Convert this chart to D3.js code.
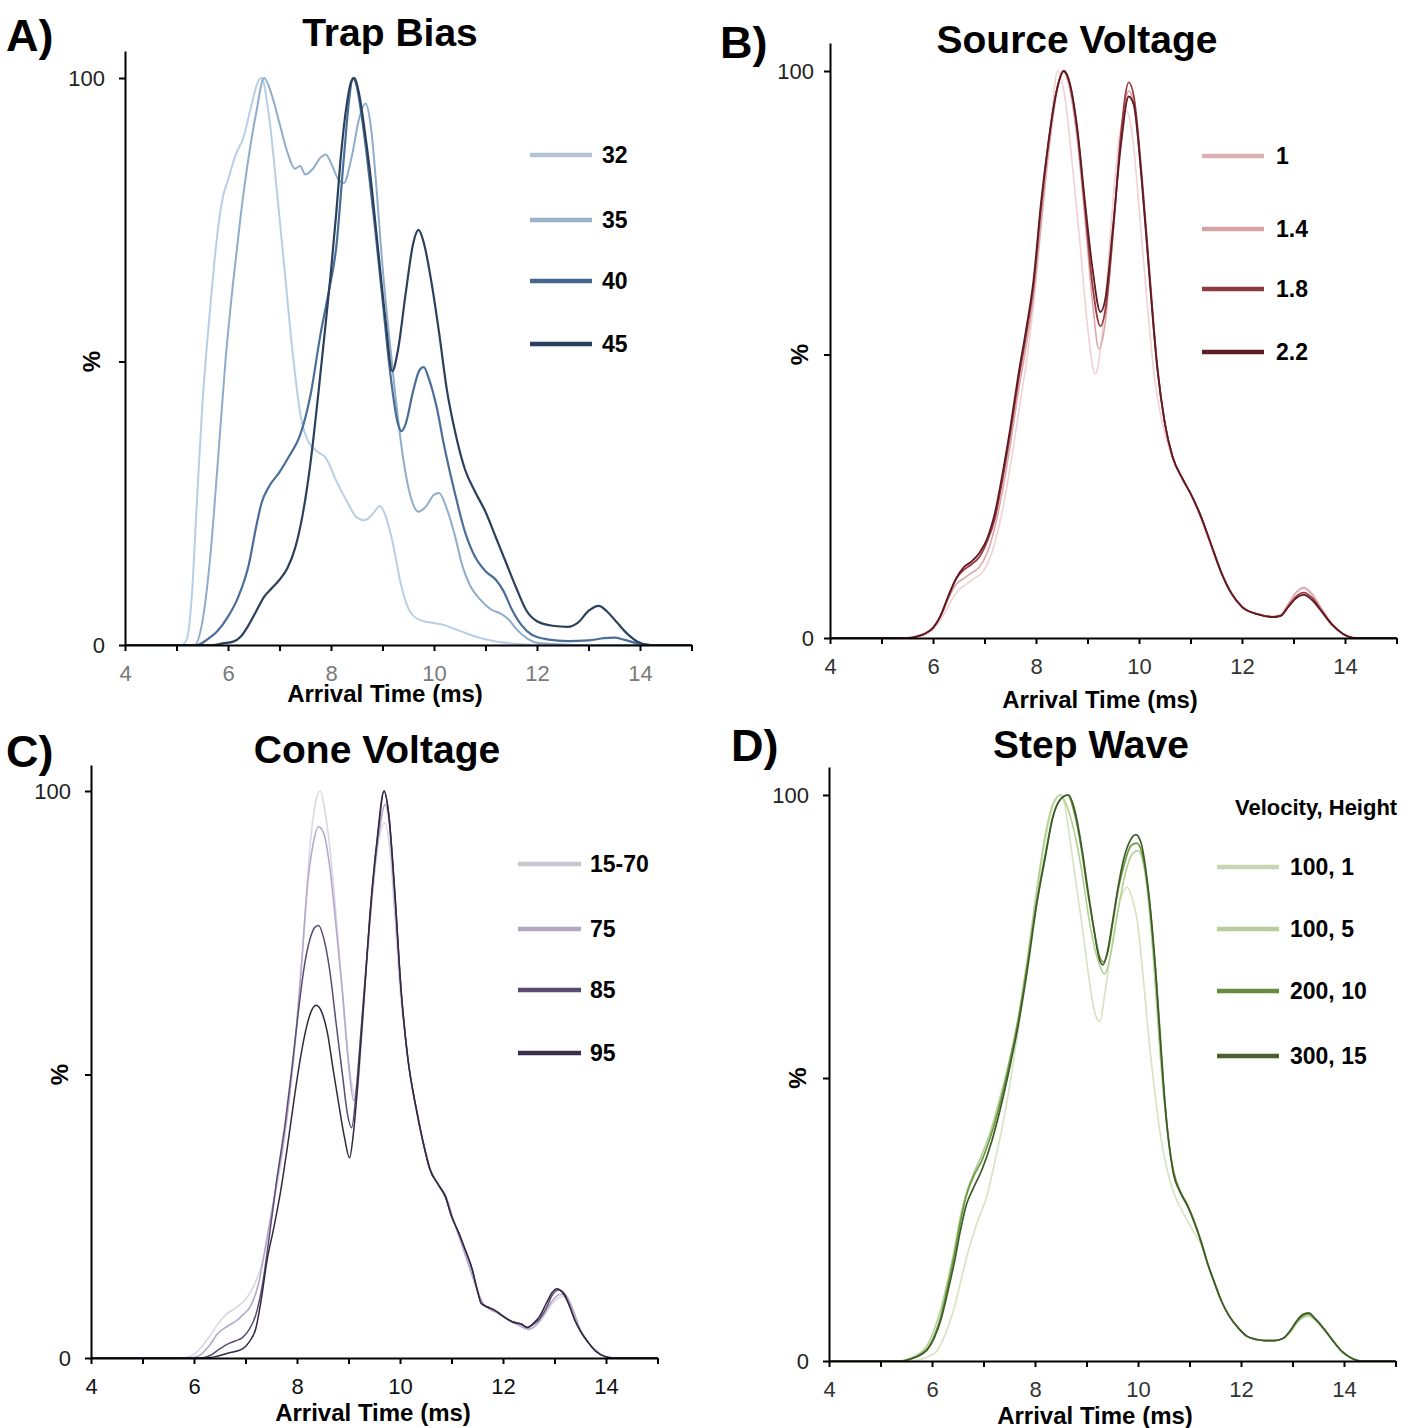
<!DOCTYPE html>
<html>
<head>
<meta charset="utf-8">
<script src="https://cdn.jsdelivr.net/npm/d3@7"></script>
<style>
  body { margin: 0; background: #fff; }
  svg { display: block; font-family: "Liberation Sans", Arial, sans-serif; }
  .axis path, .axis line { stroke: #000; stroke-width: 2; }
  .axis text { font-size: 22px; font-family: "Liberation Sans", Arial, sans-serif; }
  .title { font-size: 39px; font-weight: bold; }
  .letter { font-size: 45px; font-weight: bold; }
  .xlabel { font-size: 24px; font-weight: bold; }
  .ylabel { font-size: 24px; font-weight: bold; }
  .legend-label { font-size: 23px; font-weight: bold; }
</style>
</head>
<body>
<svg></svg>
<script>
var width = 1416,
    height = 1428;

var xTicks = [4, 5, 6, 7, 8, 9, 10, 11, 12, 13, 14, 15];
var yTicks = [0, 50, 100];

// A) Trap Bias
var trapLabels = ["32", "35", "40", "45"];
var trap32 = [[4,0],[5.1,0],[5.2,1],[5.3,9],[5.4,26],[5.5,42],[5.65,59],[5.8,73],[5.9,79],[6.0,82],[6.15,86.5],[6.3,89.5],[6.45,95],[6.58,99.3],[6.65,100],[6.8,93],[6.95,80],[7.1,66],[7.25,52],[7.4,41],[7.55,36],[7.75,34],[7.9,33],[8.1,29],[8.3,25.5],[8.5,22.5],[8.65,22],[8.8,23],[8.95,24.5],[9.05,23],[9.2,18],[9.35,11],[9.5,6.5],[9.7,4.5],[9.9,4],[10.2,3.5],[10.5,2.5],[10.8,1.5],[11.2,0.6],[11.6,0.2],[12,0],[15,0]];
var trap35 = [[4,0],[5.35,0],[5.5,4],[5.65,15],[5.8,32],[5.95,50],[6.1,64],[6.25,76],[6.4,86],[6.55,94],[6.7,100],[6.85,97],[7.0,92],[7.15,87],[7.3,84],[7.4,84.5],[7.5,83],[7.65,84],[7.8,86],[7.9,86.5],[8.0,85],[8.15,82],[8.25,81.5],[8.4,86],[8.55,93],[8.67,95.5],[8.78,91],[8.88,81],[8.98,69],[9.1,57],[9.25,44],[9.4,33],[9.55,26],[9.7,23.5],[9.85,24.5],[10.0,26.5],[10.1,26.8],[10.25,24],[10.4,19.5],[10.55,14],[10.7,10.5],[10.9,8],[11.1,6.3],[11.3,5.5],[11.45,4.5],[11.6,2.8],[11.8,1.2],[12.0,0.4],[12.5,0.1],[13.0,0],[15,0]];
var trap40 = [[4,0],[5.4,0],[5.6,1],[5.8,2.5],[6.0,5],[6.2,8.5],[6.4,14],[6.55,21],[6.65,25],[6.8,28],[7.0,30.5],[7.2,33.5],[7.4,37],[7.6,44],[7.8,55],[7.95,62],[8.1,70],[8.25,86],[8.35,96],[8.42,100],[8.5,98.5],[8.6,93],[8.7,86],[8.85,74],[9.0,61],[9.15,48],[9.3,39],[9.37,37.7],[9.45,39],[9.6,45],[9.72,48.5],[9.8,49],[9.9,47],[10.05,42],[10.2,35],[10.4,27],[10.6,20],[10.8,15.5],[11.0,13],[11.2,11.5],[11.35,9.5],[11.5,6.5],[11.7,3.5],[11.9,1.8],[12.2,1],[12.6,0.7],[13.0,0.8],[13.3,1.2],[13.5,1.3],[13.7,0.9],[13.95,0.3],[14.2,0],[15,0]];
var trap45 = [[4,0],[5.7,0],[5.9,0.3],[6.1,0.6],[6.25,1.5],[6.4,3.5],[6.55,6],[6.7,8.5],[6.85,10],[7.0,11.5],[7.15,13.5],[7.3,17],[7.45,23],[7.6,32],[7.75,44],[7.9,57],[8.0,66],[8.1,76],[8.2,87],[8.3,95],[8.4,99.5],[8.46,100],[8.55,97],[8.65,91],[8.75,84],[8.9,71],[9.05,58],[9.19,48.3],[9.3,52],[9.45,62],[9.6,71],[9.7,73.2],[9.8,71],[9.95,64],[10.1,55],[10.25,45],[10.4,38],[10.6,31],[10.8,27],[11.0,23.5],[11.2,19],[11.4,14.5],[11.6,10],[11.8,6],[12.0,4.2],[12.3,3.4],[12.6,3.2],[12.8,4],[13.0,6],[13.2,6.9],[13.35,6],[13.55,4],[13.75,2],[13.95,0.6],[14.2,0],[15,0]];

// B) Source Voltage
var sourceLabels = ["1", "1.4", "1.8", "2.2"];
var source1 = [[4,0],[5.55,0],[5.75,0.3],[5.9,0.8],[6.05,2],[6.2,4],[6.35,6.5],[6.5,8.5],[6.65,9.5],[6.8,10.5],[6.95,11.5],[7.1,14],[7.25,18.5],[7.4,25],[7.55,33],[7.7,42],[7.85,51],[8.0,63],[8.15,78],[8.3,92],[8.42,100],[8.55,96],[8.7,84],[8.85,70],[9.0,55],[9.15,46.5],[9.3,55],[9.45,72],[9.6,87],[9.75,93],[9.88,88],[10.0,76],[10.15,60],[10.3,46],[10.45,38],[10.6,33],[10.8,29],[11.0,25.5],[11.2,21],[11.4,16],[11.6,11.5],[11.8,7.8],[12.0,5.5],[12.3,4.2],[12.6,3.8],[12.75,4.2],[12.9,6],[13.05,8],[13.2,9],[13.35,8],[13.55,5.2],[13.75,2.5],[13.95,0.8],[14.2,0],[15,0]];
var source14 = [[4,0],[5.5,0],[5.7,0.3],[5.85,0.8],[6.0,1.8],[6.15,3.8],[6.3,7],[6.45,9.5],[6.6,10.5],[6.75,11.5],[6.9,12.5],[7.05,15],[7.2,19.5],[7.35,26],[7.5,34],[7.65,43],[7.8,51],[7.95,60],[8.1,73],[8.25,86],[8.4,96],[8.52,100],[8.65,97],[8.8,88],[8.95,74],[9.1,59],[9.22,51],[9.35,56],[9.5,72],[9.65,88],[9.8,96.5],[9.9,94],[10.05,81],[10.2,64],[10.35,48],[10.5,38],[10.65,32],[10.85,28],[11.0,25.5],[11.2,21.5],[11.4,16.5],[11.6,11.5],[11.8,7.8],[12.0,5.5],[12.3,4.2],[12.6,3.7],[12.75,4],[12.9,6],[13.05,8],[13.2,8.8],[13.35,7.8],[13.55,5],[13.75,2.4],[13.95,0.8],[14.2,0],[15,0]];
var source18 = [[4,0],[5.5,0],[5.7,0.3],[5.85,0.8],[6.0,1.8],[6.15,4],[6.3,7.3],[6.45,10.5],[6.6,12],[6.75,13],[6.9,14.3],[7.05,17],[7.2,21],[7.35,28],[7.5,36],[7.65,45],[7.8,53],[7.95,62],[8.1,76],[8.25,88],[8.4,96.5],[8.54,100],[8.65,98],[8.8,89.5],[8.95,76],[9.1,62],[9.25,55],[9.35,58],[9.5,72],[9.65,89],[9.8,98],[9.9,95.5],[10.05,82],[10.2,65],[10.35,48.5],[10.5,38],[10.65,32],[10.85,28],[11.0,25.5],[11.2,21.5],[11.4,16.5],[11.6,11.5],[11.8,7.8],[12.0,5.5],[12.3,4.2],[12.6,3.7],[12.75,3.9],[12.9,5.6],[13.05,7.3],[13.2,8],[13.35,7.2],[13.55,4.8],[13.75,2.4],[13.95,0.8],[14.2,0],[15,0]];
var source22 = [[4,0],[5.5,0],[5.7,0.3],[5.85,0.8],[6.0,1.8],[6.15,4],[6.3,7.5],[6.45,10.5],[6.6,12.5],[6.75,13.5],[6.9,15],[7.05,17.5],[7.2,22],[7.35,29],[7.5,37],[7.65,46],[7.8,54],[7.95,63],[8.1,77],[8.25,88],[8.4,96.5],[8.54,100],[8.65,98],[8.8,90],[8.95,77],[9.1,65],[9.25,57.5],[9.35,60],[9.5,73],[9.65,87],[9.8,95.5],[9.9,94],[10.05,81],[10.2,64],[10.35,48],[10.5,38],[10.65,32],[10.85,28],[11.0,25.5],[11.2,21.5],[11.4,16.5],[11.6,11.5],[11.8,7.8],[12.0,5.5],[12.3,4.2],[12.6,3.7],[12.75,3.9],[12.9,5.5],[13.05,7],[13.2,7.6],[13.35,6.8],[13.55,4.6],[13.75,2.3],[13.95,0.8],[14.2,0],[15,0]];

// C) Cone Voltage
var coneLabels = ["15-70", "75", "85", "95"];
var cone1570 = [[4,0],[5.7,0],[5.95,0.4],[6.15,2],[6.3,3.8],[6.45,5.8],[6.6,7.5],[6.8,8.8],[7.0,10.3],[7.15,12.5],[7.3,16],[7.45,22],[7.6,30],[7.75,38],[7.9,50],[8.05,64],[8.15,77],[8.25,90],[8.35,97.5],[8.45,100],[8.55,96],[8.65,89],[8.8,73.5],[8.95,57],[9.05,49],[9.15,45.5],[9.25,56],[9.35,70],[9.5,85],[9.6,92],[9.7,94.4],[9.8,90],[9.9,78],[10.0,65],[10.15,53],[10.3,44.5],[10.45,38],[10.6,33],[10.75,30.5],[10.9,28],[11.05,24],[11.2,20],[11.35,16],[11.5,12],[11.6,9.8],[11.75,8.6],[11.9,7.9],[12.1,6.7],[12.3,5.8],[12.5,5],[12.65,5.8],[12.8,7.5],[12.95,9.5],[13.1,10.7],[13.2,10.8],[13.35,8.5],[13.5,5],[13.65,2.8],[13.85,1],[14.0,0.2],[14.2,0],[15,0]];
var cone75 = [[4,0],[5.9,0],[6.1,0.4],[6.3,2.2],[6.47,4.4],[6.65,5.6],[6.8,6.4],[6.95,7.6],[7.1,9.2],[7.25,13],[7.42,21.3],[7.57,29],[7.72,37.3],[7.85,46],[7.98,57.4],[8.1,71],[8.2,83],[8.3,90],[8.42,93.7],[8.52,92.5],[8.63,87],[8.76,76],[8.89,63.9],[9.0,52],[9.1,45.4],[9.2,52],[9.28,61.4],[9.4,75],[9.5,85.5],[9.6,93],[9.71,97.6],[9.8,93.5],[9.9,80],[10.02,65],[10.15,53],[10.3,44.5],[10.45,38],[10.6,33],[10.75,30.5],[10.9,28.3],[11.05,24],[11.2,20],[11.35,16],[11.5,12],[11.6,9.8],[11.75,8.6],[11.9,7.9],[12.1,6.7],[12.3,5.8],[12.5,5.1],[12.65,5.9],[12.8,7.8],[12.95,10],[13.1,11.2],[13.2,11.2],[13.35,8.7],[13.5,5],[13.65,2.8],[13.85,1],[14.0,0.2],[14.2,0],[15,0]];
var cone85 = [[4,0],[6.1,0],[6.3,0.4],[6.5,1.6],[6.64,2.4],[6.8,3],[6.94,3.6],[7.07,5],[7.2,7.6],[7.33,13],[7.46,21.3],[7.6,31],[7.77,41.4],[7.9,51],[8.03,61.4],[8.14,69],[8.24,73.5],[8.35,76],[8.42,76.3],[8.52,74],[8.63,68.7],[8.76,59],[8.89,49.4],[8.98,43],[9.06,40.6],[9.15,47],[9.24,57.4],[9.35,70],[9.45,81.5],[9.58,93],[9.69,100],[9.78,96],[9.9,82],[10.02,65],[10.15,53],[10.32,43.8],[10.45,38],[10.58,33.3],[10.75,30.5],[10.88,28.5],[11.0,25],[11.14,22.1],[11.27,19],[11.4,15.7],[11.5,12],[11.58,9.6],[11.7,9],[11.84,8.4],[12.0,7.4],[12.18,6.4],[12.35,6],[12.48,5.4],[12.6,6],[12.7,6.8],[12.85,9],[12.95,11],[13.08,12],[13.18,11.5],[13.3,9],[13.39,6.8],[13.5,4.8],[13.65,2.8],[13.8,1.2],[14.0,0.2],[14.15,0],[15,0]];
var cone95 = [[4,0],[6.2,0],[6.4,0.2],[6.64,0.8],[6.94,1.6],[7.07,2.8],[7.2,5.2],[7.3,10],[7.42,17.3],[7.55,23],[7.68,29.3],[7.81,37],[7.94,45.4],[8.05,52],[8.16,57.4],[8.27,61],[8.37,62.2],[8.48,61],[8.59,57.4],[8.7,51],[8.8,45.4],[8.92,39],[9.02,35.3],[9.1,40],[9.19,49.4],[9.3,63],[9.41,77.5],[9.55,91],[9.69,100],[9.78,96],[9.9,82],[10.02,65],[10.15,53],[10.32,43.8],[10.45,38],[10.58,33.3],[10.75,30.5],[10.88,28.5],[11.0,25],[11.14,22.1],[11.27,19],[11.4,15.7],[11.5,12],[11.58,9.6],[11.7,9],[11.84,8.4],[12.0,7.4],[12.18,6.4],[12.35,6],[12.48,5.4],[12.6,6.2],[12.7,7.2],[12.85,9.8],[12.95,11.5],[13.05,12.2],[13.15,11.6],[13.3,9],[13.39,6.8],[13.5,4.8],[13.65,2.8],[13.8,1.2],[14.0,0.2],[14.15,0],[15,0]];

// D) Step Wave
var stepTitle = "Velocity, Height";
var stepLabels = ["100, 1", "100, 5", "200, 10", "300, 15"];
var step1001 = [[4,0],[5.6,0],[5.8,0.3],[5.95,0.9],[6.08,1.6],[6.2,3.5],[6.32,6.2],[6.44,9.7],[6.57,14.5],[6.7,19.3],[6.88,24.5],[7.06,29],[7.24,36],[7.41,43.5],[7.55,51],[7.68,58.8],[7.85,70],[8.03,82],[8.2,92],[8.35,98],[8.48,100],[8.57,98.5],[8.65,94],[8.78,85.5],[8.92,76.5],[9.02,69.5],[9.1,64.4],[9.18,61],[9.26,60],[9.35,64.5],[9.45,70.9],[9.54,76],[9.63,80.5],[9.72,83],[9.79,83.7],[9.88,82],[9.98,78.1],[10.1,68],[10.2,58],[10.32,48],[10.43,40.3],[10.56,34],[10.69,29.8],[10.87,26.3],[11.05,23.3],[11.23,20.4],[11.36,16.8],[11.49,13.7],[11.62,10.6],[11.76,8.1],[11.95,5.8],[12.11,4.4],[12.3,3.8],[12.47,3.6],[12.65,3.6],[12.82,4],[12.95,5],[13.09,6.8],[13.2,7.6],[13.31,7.9],[13.45,7.1],[13.62,5.4],[13.8,3.3],[13.97,1.5],[14.15,0.5],[14.33,0],[15,0]];
var step1005 = [[4,0],[5.35,0],[5.55,0.4],[5.75,1.3],[5.88,2.4],[6.02,5],[6.15,8.5],[6.3,14],[6.44,20],[6.55,25.5],[6.66,29.5],[6.8,33],[6.97,36.5],[7.15,41],[7.32,46.5],[7.5,53],[7.68,61],[7.85,71],[8.03,83],[8.2,93],[8.35,98.5],[8.5,100],[8.62,98],[8.75,94],[8.9,87],[9.05,78],[9.2,71.5],[9.35,68.4],[9.45,71],[9.6,79],[9.75,86],[9.88,89.5],[10.0,90.2],[10.1,88],[10.2,81.5],[10.3,71],[10.4,58],[10.5,46.5],[10.6,38.5],[10.69,33.5],[10.82,30],[10.96,27.6],[11.1,24.5],[11.23,21],[11.36,17],[11.49,13.7],[11.62,10.6],[11.76,8.1],[11.95,5.8],[12.11,4.4],[12.3,3.8],[12.47,3.6],[12.65,3.6],[12.82,4],[12.95,5],[13.09,6.8],[13.2,7.7],[13.31,8],[13.45,7.2],[13.62,5.5],[13.8,3.4],[13.97,1.6],[14.15,0.5],[14.33,0],[15,0]];
var step20010 = [[4,0],[5.4,0],[5.6,0.4],[5.8,1.3],[5.91,2.2],[6.05,4.6],[6.17,7.8],[6.3,13],[6.44,19],[6.55,24.5],[6.66,29],[6.8,32.5],[6.97,35.5],[7.15,40],[7.32,45.5],[7.5,52.5],[7.68,60.5],[7.85,70],[8.03,81],[8.2,89.5],[8.34,96],[8.5,99.3],[8.63,100],[8.76,97],[8.9,90.5],[9.02,83],[9.14,76.5],[9.25,71.5],[9.33,70.5],[9.42,72.5],[9.52,78],[9.62,83.5],[9.74,88],[9.86,91],[9.97,91.5],[10.07,90],[10.17,85],[10.26,77.5],[10.35,68],[10.44,56.5],[10.52,46],[10.6,38.5],[10.69,33.5],[10.82,30],[10.96,27.6],[11.1,24.5],[11.23,21],[11.36,17],[11.49,13.7],[11.62,10.6],[11.76,8.1],[11.95,5.8],[12.11,4.4],[12.3,3.8],[12.47,3.6],[12.65,3.6],[12.82,4],[12.95,5.2],[13.09,7],[13.2,8],[13.31,8.3],[13.45,7.3],[13.62,5.5],[13.8,3.4],[13.97,1.6],[14.15,0.5],[14.33,0],[15,0]];
var step30015 = [[4,0],[5.4,0],[5.6,0.4],[5.8,1.2],[5.91,2],[6.05,4.2],[6.17,7.2],[6.3,12],[6.44,17.7],[6.55,23],[6.66,27.4],[6.8,30.5],[6.97,33.8],[7.15,38.5],[7.32,44.3],[7.5,51.5],[7.68,59.6],[7.85,69],[8.03,80.5],[8.2,89],[8.34,95.8],[8.5,99.3],[8.65,100],[8.78,97],[8.92,90],[9.03,83],[9.14,76.5],[9.25,71],[9.32,70],[9.4,72],[9.5,77.3],[9.6,83],[9.72,88.6],[9.85,92],[9.96,93],[10.06,91.5],[10.16,86.2],[10.25,79],[10.34,69.2],[10.43,57],[10.52,45.9],[10.6,38.5],[10.69,33],[10.82,29.8],[10.96,27.4],[11.1,24.3],[11.23,20.9],[11.36,17],[11.49,13.7],[11.62,10.6],[11.76,8.1],[11.95,5.8],[12.11,4.4],[12.3,3.8],[12.47,3.6],[12.65,3.6],[12.82,4],[12.95,5.3],[13.09,7.2],[13.2,8.2],[13.31,8.5],[13.45,7.4],[13.62,5.6],[13.8,3.4],[13.97,1.6],[14.15,0.5],[14.33,0],[15,0]];

var pxPerMs = 51.5;

var panels = [
  { letter: "A)", title: "Trap Bias", labels: trapLabels,
    series: [trap32, trap35, trap40, trap45],
    colors: ["#b7cfe6", "#8fadcb", "#4a6e98", "#2a405c"],
    legendColors: ["#b3c3d5", "#9ab1c9", "#46678d", "#2b3f5a"],
    widths: [2, 2, 2.2, 2.2],
    left: 125, y0: 645, y100: 78, top: 51, tickColor: "#7a7a7a", yPad: 14,
    letterXY: [6, 51], titleXY: [390, 46], xLabelXY: [385, 702], pctX: 100,
    legend: { x1: 530, x2: 592, tx: 602, ys: [155, 220, 281, 344] } },
  { letter: "B)", title: "Source Voltage", labels: sourceLabels,
    series: [source1, source14, source18, source22],
    colors: ["#f0d2d4", "#dba6aa", "#9c3b42", "#5f1b22"],
    legendColors: ["#dcb2b5", "#d4a3a7", "#8c3a40", "#5a1e24"],
    widths: [1.6, 1.6, 1.8, 1.8],
    left: 830, y0: 638, y100: 71, top: 43, tickColor: "#333", yPad: 10,
    letterXY: [720, 58], titleXY: [1077, 53], xLabelXY: [1100, 708], pctX: 808,
    legend: { x1: 1202, x2: 1264, tx: 1276, ys: [156, 229, 289, 352] } },
  { letter: "C)", title: "Cone Voltage", labels: coneLabels,
    series: [cone1570, cone75, cone85, cone95],
    colors: ["#dbd6e4", "#b5a8cb", "#5b4a75", "#33283f"],
    legendColors: ["#c9c6cf", "#b2a6c2", "#5a4a70", "#3a2e4b"],
    widths: [1.6, 1.6, 1.5, 1.5],
    left: 91, y0: 1358, y100: 791, top: 765, tickColor: "#111", yPad: 14,
    letterXY: [6, 767], titleXY: [377, 763], xLabelXY: [373, 1421], pctX: 68,
    legend: { x1: 518, x2: 581, tx: 590, ys: [864, 929, 990, 1053] } },
  { letter: "D)", title: "Step Wave", labels: stepLabels, legendTitle: stepTitle,
    series: [step1001, step1005, step20010, step30015],
    colors: ["#d5e3c0", "#b3d093", "#6b9a40", "#3f5a2a"],
    legendColors: ["#c8d4b2", "#b9cc9e", "#6a8a42", "#4a6030"],
    widths: [1.6, 1.6, 1.7, 1.7],
    left: 829, y0: 1361, y100: 795, top: 767, tickColor: "#333", yPad: 14,
    letterXY: [731, 761], titleXY: [1091, 758], xLabelXY: [1095, 1424], pctX: 806,
    legend: { x1: 1217, x2: 1279, tx: 1290, ys: [867, 929, 991, 1056], titleXY: [1235, 815] } }
];

var svg = d3.select("svg")
    .attr("width", width)
    .attr("height", height);

panels.forEach(drawPanel);

function drawPanel(p) {
  var g = svg.append("g");

  var yMax = 100 * (p.y0 - p.top) / (p.y0 - p.y100);
  var x = d3.scaleLinear().domain([4, 15]).range([p.left, p.left + 11 * pxPerMs]);
  var y = d3.scaleLinear().domain([0, yMax]).range([p.y0, p.top]);

  var line = d3.line()
      .x(function(d) { return x(d[0]); })
      .y(function(d) { return y(d[1]); })
      .curve(d3.curveMonotoneX);

  g.selectAll(".series")
      .data(p.series)
    .enter().append("path")
      .attr("class", "series")
      .attr("fill", "none")
      .attr("stroke", function(d, i) { return p.colors[i]; })
      .attr("stroke-width", function(d, i) { return p.widths[i]; })
      .attr("stroke-linejoin", "round")
      .attr("d", line);

  var xAxis = g.append("g")
      .attr("class", "axis")
      .attr("transform", "translate(0," + p.y0 + ")")
      .call(d3.axisBottom(x)
        .tickValues(xTicks)
        .tickSize(6)
        .tickSizeOuter(0)
        .tickPadding(14)
        .tickFormat(function(d) { return d % 2 === 0 ? d : ""; }));
  xAxis.selectAll("text").attr("fill", p.tickColor);

  var yAxis = g.append("g")
      .attr("class", "axis")
      .attr("transform", "translate(" + p.left + ",0)")
      .call(d3.axisLeft(y)
        .tickValues(yTicks)
        .tickSize(6)
        .tickSizeOuter(0)
        .tickPadding(p.yPad)
        .tickFormat(function(d) { return d === 50 ? "" : d; }));
  yAxis.selectAll("text").attr("fill", "#222");

  g.append("text")
      .attr("class", "letter")
      .attr("x", p.letterXY[0])
      .attr("y", p.letterXY[1])
      .text(p.letter);

  g.append("text")
      .attr("class", "title")
      .attr("text-anchor", "middle")
      .attr("x", p.titleXY[0])
      .attr("y", p.titleXY[1])
      .text(p.title);

  g.append("text")
      .attr("class", "xlabel")
      .attr("text-anchor", "middle")
      .attr("x", p.xLabelXY[0])
      .attr("y", p.xLabelXY[1])
      .text("Arrival Time (ms)");

  g.append("text")
      .attr("class", "ylabel")
      .attr("text-anchor", "middle")
      .attr("transform", "translate(" + p.pctX + "," + y(50) + ") rotate(-90)")
      .text("%");

  // legend
  var leg = g.selectAll(".legend")
      .data(p.labels)
    .enter().append("g")
      .attr("class", "legend");

  leg.append("line")
      .attr("x1", p.legend.x1)
      .attr("x2", p.legend.x2)
      .attr("y1", function(d, i) { return p.legend.ys[i]; })
      .attr("y2", function(d, i) { return p.legend.ys[i]; })
      .attr("stroke", function(d, i) { return p.legendColors[i]; })
      .attr("stroke-width", 4.5);

  leg.append("text")
      .attr("class", "legend-label")
      .attr("x", p.legend.tx)
      .attr("y", function(d, i) { return p.legend.ys[i]; })
      .attr("dy", "0.36em")
      .text(function(d) { return d; });

  if (p.legendTitle) {
    g.append("text")
        .attr("class", "legend-label")
        .attr("x", p.legend.titleXY[0])
        .attr("y", p.legend.titleXY[1])
        .style("font-size", "22px")
        .text(p.legendTitle);
  }
}
</script>
</body>
</html>
